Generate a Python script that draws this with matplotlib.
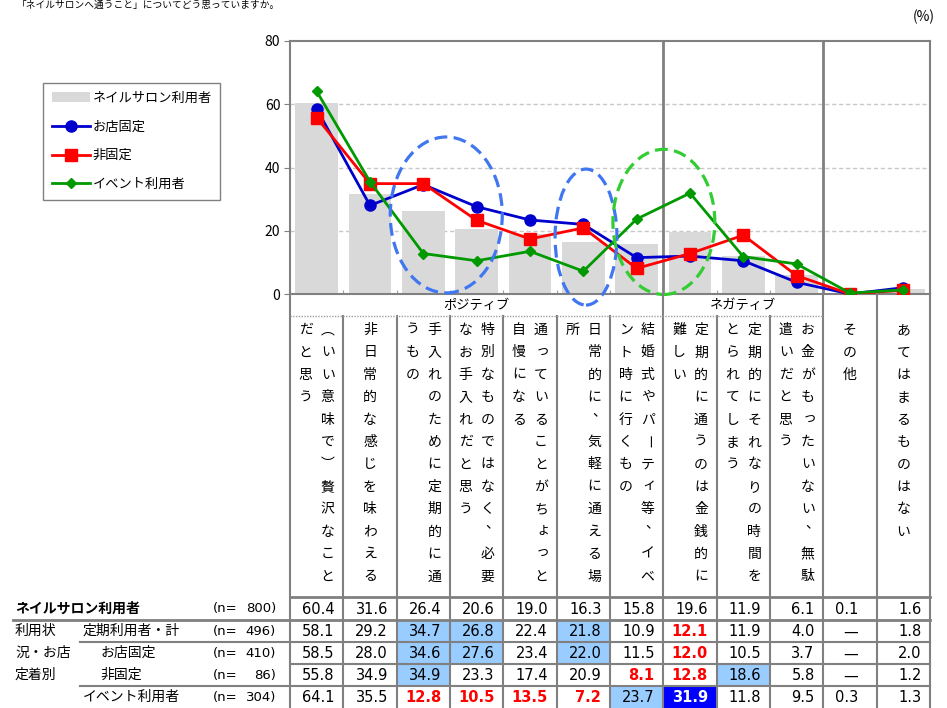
import numpy as np
import matplotlib.pyplot as plt
from matplotlib.patches import Ellipse, Rectangle

plt.rcParams['font.family'] = ['Noto Sans CJK JP', 'DejaVu Sans']

# ---- data ----
title = "「ネイルサロンへ通うこと」についてどう思っていますか。"
cats = [
    "（いい意味で）贅沢なことだと思う",
    "非日常的な感じを味わえる",
    "手入れのために定期的に通うもの",
    "特別なものではなく、必要なお手入れだと思う",
    "通っていることがちょっと自慢になる",
    "日常的に、気軽に通える場所",
    "結婚式やパーティ等、イベント時に行くもの",
    "定期的に通うのは金銭的に難しい",
    "定期的にそれなりの時間をとられてしまう",
    "お金がもったいない、無駄遣いだと思う",
    "その他",
    "あてはまるものはない",
]
groups = ["ポジティブ", "ネガティブ"]

all_users = [60.4, 31.6, 26.4, 20.6, 19.0, 16.3, 15.8, 19.6, 11.9, 6.1, 0.1, 1.6]
regular = [58.1, 29.2, 34.7, 26.8, 22.4, 21.8, 10.9, 12.1, 11.9, 4.0, None, 1.8]
fixed = [58.5, 28.0, 34.6, 27.6, 23.4, 22.0, 11.5, 12.0, 10.5, 3.7, None, 2.0]
nonfixed = [55.8, 34.9, 34.9, 23.3, 17.4, 20.9, 8.1, 12.8, 18.6, 5.8, None, 1.2]
event = [64.1, 35.5, 12.8, 10.5, 13.5, 7.2, 23.7, 31.9, 11.8, 9.5, 0.3, 1.3]

row_names = ["ネイルサロン利用者", "定期利用者・計", "お店固定", "非固定", "イベント利用者"]
row_n = [800, 496, 410, 86, 304]
row_vals = [all_users, regular, fixed, nonfixed, event]
# h = higher (light blue), H = much higher (blue), l = lower (red)
row_marks = [
    "............",
    "..hh.h.l....",
    "..hh.h.l....",
    "..h...llh...",
    "..llllhH....",
]

# ---- layout (pixels) ----
W, H = 947, 708
L, R, T, B = 290, 930, 41, 294
n = len(cats)
cw = (R - L) / n

fig = plt.figure(figsize=(W / 100, H / 100), dpi=100)
ax = fig.add_axes([L / W, 1 - B / H, (R - L) / W, (B - T) / H])
x = np.arange(n)

def z(v):
    return [0 if a is None else a for a in v]

bars = ax.bar(x, all_users, width=0.8, color='#d9d9d9', zorder=1, label='ネイルサロン利用者')
l1, = ax.plot(x, z(fixed), color='#0000cc', lw=2, marker='o', ms=8, zorder=4, label='お店固定')
l2, = ax.plot(x, z(nonfixed), color='#ff0000', lw=2, marker='s', ms=8, zorder=4, label='非固定')
l3, = ax.plot(x, z(event), color='#009900', lw=2, marker='D', ms=5.5, zorder=5, label='イベント利用者')

ax.set_xlim(-0.5, n - 0.5)
ax.set_ylim(0, 80)
ax.set_yticks([0, 20, 40, 60, 80])
ax.set_xticks(np.arange(0.5, n - 1, 1))
ax.set_xticklabels([])
ax.tick_params(axis='x', direction='in', length=3, color='#a0a0a0')
ax.tick_params(axis='y', direction='out', length=4, color='#808080', labelsize=10, pad=3)
for s in ax.spines.values():
    s.set_color('#808080')
    s.set_linewidth(1.5)
for yv in [20, 40, 60]:
    ax.axhline(yv, color='#c8c8c8', lw=1, ls=(0, (3, 2)), zorder=0)
ax.axvline(6.5, color='#808080', lw=2, zorder=2)
ax.axvline(9.5, color='#808080', lw=2, zorder=2)

# dashed ellipses
ax.add_patch(Ellipse((2.43, 25.0), 2.1, 49.3, fill=False, ec='#4077f0', lw=2.3,
                     ls=(0, (4, 2)), zorder=6, clip_on=False))
ax.add_patch(Ellipse((5.05, 18.0), 1.16, 43.0, fill=False, ec='#4077f0', lw=2.3,
                     ls=(0, (4, 2)), zorder=6, clip_on=False))
ax.add_patch(Ellipse((6.51, 22.8), 1.91, 45.9, fill=False, ec='#33cc33', lw=2.3,
                     ls=(0, (4, 2)), zorder=6, clip_on=False))

ax.legend(handles=[bars, l1, l2, l3], loc='upper left',
          bbox_to_anchor=(43 / W, 1 - 83 / H), bbox_transform=fig.transFigure,
          borderaxespad=0, fontsize=9.5, frameon=True, fancybox=False,
          edgecolor='#808080', framealpha=1, handlelength=2.9, handletextpad=0.2,
          labelspacing=1.2, borderpad=0.65)

# ---- overlay in pixel coordinates ----
tx = fig.add_axes([0, 0, 1, 1])
tx.set_xlim(0, W)
tx.set_ylim(H, 0)
tx.axis('off')

tx.text(17, 5, title, fontsize=7, ha='left', va='center')
tx.text(935, 17, "(%)", fontsize=10, ha='right', va='center')

def left(i):
    return L + i * cw

def center(i):
    return L + (i + 0.5) * cw

gcol = '#808080'
hb = 316
rb = [597, 620, 642, 664, 686, 708]

# vertical lines
tx.plot([L, L], [B, H], color=gcol, lw=1.5)
tx.plot([R, R], [B, H], color=gcol, lw=1.5)
for i in range(1, n):
    top = B if i in (7, 10, 11) else hb
    tx.plot([left(i)] * 2, [top, H], color=gcol, lw=1.5)

# header row
tx.plot([L, left(10)], [hb, hb], color='#a0a0a0', lw=1, ls=(0, (1, 1)))
tx.text((L + left(7)) / 2, 305, groups[0], fontsize=9.5, ha='center', va='center')
tx.text((left(7) + left(10)) / 2, 305, groups[1], fontsize=9.5, ha='center', va='center')

# vertical category text (brackets drawn in their vertical forms)
vert_forms = {"（": "︵", "）": "︶"}
small = "っょィ"
for i, s in enumerate(cats):
    lines = [s[k:k + 12] for k in range(0, len(s), 12)]
    nl = len(lines)
    for j, line in enumerate(lines):
        cx = center(i) + (nl - 1) * 11 - j * 22
        for k, ch in enumerate(line):
            cy = 330 + 22.4 * k
            rot = 0
            dx, dy = 0, 0
            if ch in vert_forms:
                ch = vert_forms[ch]
            elif ch == "ー":
                rot = -90
            elif ch == "、":
                dx, dy = 5, -8
            elif ch in small:
                dx, dy = 2, -2
            tx.text(cx + dx, cy + dy, ch, fontsize=10, ha='center', va='center',
                    rotation=rot, rotation_mode='anchor')

# data table
tx.plot([L, R], [rb[0], rb[0]], color=gcol, lw=2)
tx.plot([13, R], [rb[1], rb[1]], color=gcol, lw=2)
tx.plot([80, R], [rb[2], rb[2]], color=gcol, lw=1.5)
tx.plot([L, R], [rb[3], rb[3]], color=gcol, lw=1.5)
tx.plot([80, R], [rb[4], rb[4]], color=gcol, lw=1.5)

for r in range(len(row_names)):
    y0, y1 = rb[r], rb[r + 1]
    cy = (y0 + y1) / 2
    for i in range(n):
        v = row_vals[r][i]
        m = row_marks[r][i]
        col, wt = 'black', 'normal'
        if m == 'h':
            tx.add_patch(Rectangle((left(i) + 1, y0 + 1), cw - 2, y1 - y0 - 2,
                                   color='#99ccff', zorder=0))
        elif m == 'H':
            tx.add_patch(Rectangle((left(i) + 1, y0 + 1), cw - 2, y1 - y0 - 2,
                                   color='#0000ff', zorder=0))
            col, wt = 'white', 'bold'
        elif m == 'l':
            col, wt = '#ff0000', 'bold'
        txt = "—" if v is None else f"{v:.1f}"
        off = 8 if i == 10 else 18
        tx.text(center(i) + off, cy + 1, txt, fontsize=10.5, ha='right', va='center',
                color=col, fontweight=wt, family=['DejaVu Sans'])
    tx.text(213, cy, "(n=", fontsize=9.5, ha='left', va='center', family=['DejaVu Sans'])
    tx.text(276, cy, f"{row_n[r]})", fontsize=9.5, ha='right', va='center',
            family=['DejaVu Sans'])

tx.text(15, (rb[0] + rb[1]) / 2, row_names[0], fontsize=10, fontweight='bold',
        ha='left', va='center')
tx.text(83, (rb[1] + rb[2]) / 2, row_names[1], fontsize=10, ha='left', va='center')
tx.text(100, (rb[2] + rb[3]) / 2, row_names[2], fontsize=10, ha='left', va='center')
tx.text(100, (rb[3] + rb[4]) / 2, row_names[3], fontsize=10, ha='left', va='center')
tx.text(83, (rb[4] + rb[5]) / 2, row_names[4], fontsize=10, ha='left', va='center')
for k, lab in enumerate(["利用状", "況・お店", "定着別"]):
    tx.text(15, (rb[k + 1] + rb[k + 2]) / 2, lab, fontsize=10, ha='left', va='center')

fig.savefig('out.png', dpi=100)
